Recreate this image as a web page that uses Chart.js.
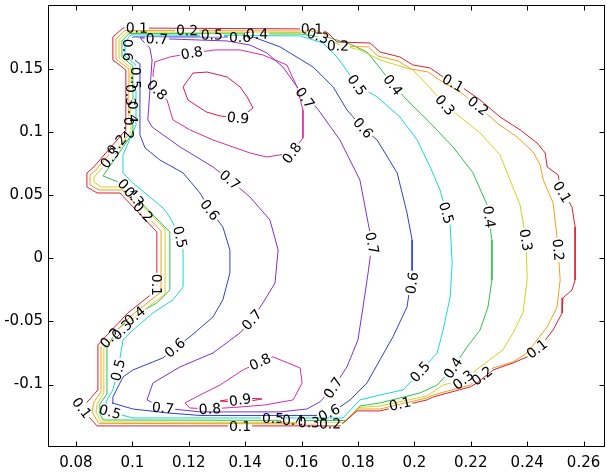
<!DOCTYPE html>
<html>
<head>
<meta charset="utf-8">
<script src="https://cdn.jsdelivr.net/npm/chart.js@4.4.1/dist/chart.umd.min.js"></script>
<style>
  html, body { margin: 0; padding: 0; background: #fff; }
</style>
</head>
<body>
<canvas id="chart" width="607" height="473"></canvas>
<script>
// contour levels and line colours
const levels = [0.1, 0.2, 0.3, 0.4, 0.5, 0.6, 0.7, 0.8, 0.9];
const levelColors = ['#dd1f2f', '#f0a020', '#d0d420', '#30c050', '#18d8d8', '#3040d0', '#8030d8', '#d82ca8', '#d81850'];

// closed contour lines as [x, y] pairs
const contour01 = [
  [0.0931, 0.1753], [0.0967, 0.1824], [0.1665, 0.1816], [0.1694, 0.1784], [0.1726, 0.1713], [0.1843, 0.1705],
  [0.1878, 0.1634], [0.1949, 0.1594], [0.1995, 0.1531], [0.2056, 0.1507], [0.2102, 0.1436], [0.2173, 0.1349],
  [0.2233, 0.1254], [0.2304, 0.1119], [0.2375, 0.1017], [0.2435, 0.0913], [0.2464, 0.0834], [0.2471, 0.0723],
  [0.2510, 0.0660], [0.2517, 0.0565], [0.2559, 0.0406], [0.2570, 0.0248], [0.2570, -0.0172], [0.2559, -0.0251],
  [0.2527, -0.0314], [0.2524, -0.0433], [0.2492, -0.0568], [0.2446, -0.0702], [0.2400, -0.0781], [0.2350, -0.0829],
  [0.2279, -0.0885], [0.2222, -0.0988], [0.2198, -0.1019], [0.2066, -0.1099], [0.2045, -0.1122], [0.1878, -0.1209],
  [0.1797, -0.1209], [0.1736, -0.1328], [0.0875, -0.1328], [0.0843, -0.1249], [0.0821, -0.1186], [0.0850, -0.1114],
  [0.0878, -0.1043], [0.0878, -0.0686], [0.0984, -0.0433], [0.1087, -0.0251], [0.1087, 0.0208], [0.0956, 0.0517],
  [0.0875, 0.0517], [0.0839, 0.0565], [0.0839, 0.0676], [0.0860, 0.0715], [0.0977, 0.1017], [0.0977, 0.1491],
  [0.0931, 0.1571]
];
const contour02 = [
  [0.0942, 0.1737], [0.0974, 0.1804], [0.1658, 0.1800], [0.1687, 0.1769], [0.1719, 0.1682], [0.1836, 0.1674],
  [0.1871, 0.1602], [0.1942, 0.1563], [0.1988, 0.1499], [0.2049, 0.1475], [0.2095, 0.1404], [0.2162, 0.1317],
  [0.2226, 0.1206], [0.2297, 0.1064], [0.2364, 0.0961], [0.2421, 0.0842], [0.2446, 0.0739], [0.2457, 0.0620],
  [0.2492, 0.0438], [0.2503, 0.0224], [0.2510, 0.0066], [0.2517, -0.0172], [0.2506, -0.0386], [0.2471, -0.0544],
  [0.2435, -0.0647], [0.2400, -0.0750], [0.2350, -0.0821], [0.2279, -0.0869], [0.2222, -0.0964], [0.2198, -0.1004],
  [0.2066, -0.1083], [0.2045, -0.1106], [0.1878, -0.1194], [0.1800, -0.1194], [0.1743, -0.1312], [0.0882, -0.1308],
  [0.0857, -0.1217], [0.0864, -0.1138], [0.0889, -0.1059], [0.0889, -0.0702], [0.0995, -0.0457], [0.1102, -0.0267],
  [0.1102, 0.0216], [0.0963, 0.0541], [0.0882, 0.0541], [0.0850, 0.0581], [0.0850, 0.0660], [0.0871, 0.0699],
  [0.0988, 0.1009], [0.0988, 0.1499], [0.0942, 0.1578]
];
const contour03 = [
  [0.0953, 0.1729], [0.0981, 0.1792], [0.1630, 0.1788], [0.1683, 0.1745], [0.1736, 0.1689], [0.1807, 0.1650],
  [0.1878, 0.1571], [0.1995, 0.1491], [0.2056, 0.1349], [0.2109, 0.1214], [0.2233, 0.0993], [0.2304, 0.0818],
  [0.2339, 0.0620], [0.2375, 0.0422], [0.2396, 0.0145], [0.2400, -0.0172], [0.2385, -0.0433], [0.2350, -0.0591],
  [0.2314, -0.0726], [0.2233, -0.0861], [0.2173, -0.0964], [0.2102, -0.1004], [0.2045, -0.1091], [0.1878, -0.1170],
  [0.1804, -0.1182], [0.1751, -0.1301], [0.0889, -0.1297], [0.0871, -0.1217], [0.0875, -0.1154], [0.0899, -0.1067],
  [0.0899, -0.0710], [0.1006, -0.0473], [0.1116, -0.0283], [0.1116, 0.0232], [0.0970, 0.0565], [0.0889, 0.0565],
  [0.0864, 0.0604], [0.0864, 0.0644], [0.0882, 0.0684], [0.0995, 0.1001], [0.0995, 0.1507], [0.0953, 0.1586]
];
const contour04 = [
  [0.0963, 0.1721], [0.0988, 0.1780], [0.1595, 0.1776], [0.1701, 0.1745], [0.1772, 0.1697], [0.1832, 0.1634],
  [0.1878, 0.1507], [0.1924, 0.1372], [0.1974, 0.1254], [0.2056, 0.1072], [0.2137, 0.0882], [0.2208, 0.0676],
  [0.2258, 0.0422], [0.2275, 0.0145], [0.2275, -0.0172], [0.2261, -0.0386], [0.2233, -0.0568], [0.2187, -0.0702],
  [0.2137, -0.0869], [0.2081, -0.1004], [0.2020, -0.1067], [0.1878, -0.1146], [0.1807, -0.1170], [0.1758, -0.1285],
  [0.0896, -0.1281], [0.0882, -0.1217], [0.0885, -0.1154], [0.0910, -0.1075], [0.0910, -0.0710], [0.0945, -0.0568],
  [0.1016, -0.0441], [0.1087, -0.0354], [0.1133, -0.0251], [0.1133, 0.0208], [0.1098, 0.0287], [0.0967, 0.0589],
  [0.0896, 0.0652], [0.1002, 0.0993], [0.1002, 0.1523], [0.0963, 0.1594]
];
const contour05 = [
  [0.0974, 0.1713], [0.0995, 0.1769], [0.1595, 0.1761], [0.1676, 0.1705], [0.1726, 0.1594], [0.1797, 0.1372],
  [0.1868, 0.1278], [0.1949, 0.1119], [0.2010, 0.0937], [0.2056, 0.0723], [0.2091, 0.0541], [0.2127, 0.0264],
  [0.2134, -0.0037], [0.2127, -0.0307], [0.2102, -0.0568], [0.2081, -0.0750], [0.2020, -0.0900], [0.1960, -0.1043],
  [0.1878, -0.1083], [0.1807, -0.1122], [0.1747, -0.1265], [0.1002, -0.1265], [0.0921, -0.1217], [0.0906, -0.1138],
  [0.0931, -0.1043], [0.0949, -0.0885], [0.0967, -0.0647], [0.0991, -0.0591], [0.1073, -0.0433], [0.1144, -0.0330],
  [0.1180, -0.0227], [0.1180, 0.0066], [0.1169, 0.0169], [0.1133, 0.0327], [0.1109, 0.0398], [0.1002, 0.0596],
  [0.0967, 0.0676], [0.0967, 0.0818], [0.1013, 0.1056], [0.1013, 0.1531], [0.0974, 0.1602]
];
const contour06 = [
  [0.0984, 0.1705], [0.1002, 0.1753], [0.1428, 0.1753], [0.1524, 0.1674], [0.1641, 0.1515], [0.1712, 0.1357],
  [0.1761, 0.1175], [0.1818, 0.1032], [0.1868, 0.0937], [0.1939, 0.0676], [0.1974, 0.0359], [0.1992, 0.0145],
  [0.1992, -0.0116], [0.1974, -0.0386], [0.1924, -0.0623], [0.1878, -0.0805], [0.1832, -0.0988], [0.1772, -0.1122],
  [0.1736, -0.1178], [0.1676, -0.1245], [0.1240, -0.1245], [0.1123, -0.1225], [0.1002, -0.1194], [0.0928, -0.1146],
  [0.0931, -0.1099], [0.0967, -0.0940], [0.1002, -0.0885], [0.1073, -0.0821], [0.1109, -0.0789], [0.1151, -0.0710],
  [0.1204, -0.0623], [0.1286, -0.0465], [0.1321, -0.0330], [0.1346, -0.0116], [0.1346, 0.0066], [0.1321, 0.0248],
  [0.1275, 0.0382], [0.1240, 0.0517], [0.1180, 0.0676], [0.1098, 0.0778], [0.1045, 0.0874], [0.1027, 0.0977],
  [0.1027, 0.1539], [0.0984, 0.1610]
];
const contour07 = [
  [0.1027, 0.1745], [0.1336, 0.1721], [0.1417, 0.1689], [0.1477, 0.1626], [0.1534, 0.1515], [0.1612, 0.1270],
  [0.1655, 0.1190], [0.1736, 0.0937], [0.1807, 0.0620], [0.1836, 0.0280], [0.1850, 0.0121], [0.1836, -0.0116],
  [0.1818, -0.0386], [0.1800, -0.0647], [0.1761, -0.0861], [0.1712, -0.1027], [0.1665, -0.1138], [0.1619, -0.1194],
  [0.1524, -0.1217], [0.1240, -0.1217], [0.1109, -0.1186], [0.1052, -0.1122], [0.1073, -0.0988], [0.1169, -0.0861],
  [0.1286, -0.0750], [0.1382, -0.0591], [0.1424, -0.0488], [0.1463, -0.0354], [0.1506, -0.0196], [0.1517, 0.0066],
  [0.1488, 0.0303], [0.1417, 0.0486], [0.1346, 0.0620], [0.1286, 0.0723], [0.1169, 0.0882], [0.1070, 0.1040],
  [0.1055, 0.1096], [0.1070, 0.1571], [0.1062, 0.1666]
];
const contour08Upper = [
  [0.1080, 0.1555], [0.1133, 0.1594], [0.1211, 0.1626], [0.1293, 0.1650], [0.1382, 0.1650], [0.1463, 0.1610],
  [0.1548, 0.1531], [0.1584, 0.1357], [0.1605, 0.1175], [0.1605, 0.0953], [0.1566, 0.0834], [0.1477, 0.0802],
  [0.1417, 0.0834], [0.1286, 0.0937], [0.1204, 0.1017], [0.1144, 0.1096], [0.1123, 0.1254], [0.1087, 0.1333],
  [0.1073, 0.1452]
];
const contour08Lower = [
  [0.1187, -0.1146], [0.1240, -0.1083], [0.1311, -0.1004], [0.1392, -0.0885], [0.1453, -0.0821], [0.1499, -0.0781],
  [0.1595, -0.0869], [0.1602, -0.0988], [0.1570, -0.1122], [0.1470, -0.1162], [0.1382, -0.1178], [0.1275, -0.1194],
  [0.1204, -0.1186]
];
const contour09Upper = [
  [0.1180, 0.1357], [0.1215, 0.1467], [0.1265, 0.1475], [0.1336, 0.1436], [0.1382, 0.1357], [0.1407, 0.1278],
  [0.1428, 0.1190], [0.1382, 0.1111], [0.1311, 0.1127], [0.1262, 0.1159], [0.1197, 0.1254]
];
const contour09Lower = [
  [0.1311, -0.1130], [0.1382, -0.1106], [0.1460, -0.1114], [0.1382, -0.1146]
];

const contourLines = [
  { level: 0.1, points: contour01 },
  { level: 0.2, points: contour02 },
  { level: 0.3, points: contour03 },
  { level: 0.4, points: contour04 },
  { level: 0.5, points: contour05 },
  { level: 0.6, points: contour06 },
  { level: 0.7, points: contour07 },
  { level: 0.8, points: contour08Upper },
  { level: 0.8, points: contour08Lower },
  { level: 0.9, points: contour09Upper },
  { level: 0.9, points: contour09Lower }
];

// inline contour labels: [level, x, y]
const contourLabels = [
  [0.1, 0.1016, 0.1824], [0.7, 0.1087, 0.1737], [0.2, 0.1194, 0.1804], [0.5, 0.1282, 0.1769],
  [0.6, 0.1382, 0.1753], [0.4, 0.1442, 0.1776], [0.1, 0.1637, 0.1816], [0.3, 0.1658, 0.1761],
  [0.2, 0.1729, 0.1682], [0.8, 0.1211, 0.1626], [0.8, 0.1087, 0.1333], [0.9, 0.1375, 0.1111],
  [0.7, 0.1612, 0.1270], [0.5, 0.1797, 0.1372], [0.6, 0.1818, 0.1032], [0.8, 0.1566, 0.0834],
  [0.4, 0.1924, 0.1372], [0.1, 0.2137, 0.1388], [0.3, 0.2109, 0.1214], [0.2, 0.2226, 0.1206],
  [0.1, 0.2524, 0.0525], [0.5, 0.2113, 0.0359], [0.4, 0.2265, 0.0327], [0.3, 0.2396, 0.0145],
  [0.2, 0.2510, 0.0066], [0.6, 0.1992, -0.0196], [0.7, 0.1850, 0.0121], [0.7, 0.1346, 0.0620],
  [0.6, 0.1275, 0.0382], [0.5, 0.1169, 0.0169], [0.1, 0.1087, -0.0211], [0.7, 0.1424, -0.0488],
  [0.6, 0.1151, -0.0710], [0.8, 0.1453, -0.0821], [0.9, 0.1382, -0.1122], [0.8, 0.1275, -0.1194],
  [0.7, 0.1109, -0.1186], [0.5, 0.1499, -0.1265], [0.1, 0.1382, -0.1328], [0.4, 0.1570, -0.1285],
  [0.3, 0.1626, -0.1301], [0.2, 0.1701, -0.1312], [0.6, 0.1698, -0.1225], [0.7, 0.1712, -0.1027],
  [0.5, 0.2020, -0.0900], [0.4, 0.2137, -0.0869], [0.3, 0.2173, -0.0964], [0.2, 0.2240, -0.0932],
  [0.1, 0.1949, -0.1154], [0.1, 0.2435, -0.0718], [0.5, 0.0949, -0.0885], [0.5, 0.0921, -0.1217],
  [0.1, 0.0821, -0.1186], [0.2, 0.0921, -0.0631], [0.3, 0.0963, -0.0568], [0.4, 0.1009, -0.0457],
  [0.2, 0.0945, 0.0897], [0.3, 0.0921, 0.0794], [0.4, 0.0984, 0.0549], [0.3, 0.1006, 0.0486],
  [0.2, 0.1038, 0.0367], [0.5, 0.1013, 0.1428], [0.3, 0.0995, 0.1293], [0.4, 0.1002, 0.1159],
  [0.2, 0.0988, 0.1032], [0.6, 0.0984, 0.1650]
];

const xTicks = [0.08, 0.1, 0.12, 0.14, 0.16, 0.18, 0.2, 0.22, 0.24, 0.26];
const yTicks = [-0.1, -0.05, 0, 0.05, 0.1, 0.15];

const FONT = 'DejaVu Sans';

function segDist(px, py, a, b) {
  const dx = b[0] - a[0], dy = b[1] - a[1];
  const len = dx * dx + dy * dy;
  let t = len ? ((px - a[0]) * dx + (py - a[1]) * dy) / len : 0;
  t = Math.max(0, Math.min(1, t));
  const qx = a[0] + t * dx, qy = a[1] + t * dy;
  return Math.hypot(px - qx, py - qy);
}

// clabel-style text: rotated along the line, own line broken under it
const labelPlugin = {
  id: 'contourLabels',
  afterDatasetsDraw(chart) {
    const { ctx, scales } = chart;
    const toPx = p => [scales.x.getPixelForValue(p[0]), scales.y.getPixelForValue(p[1])];
    ctx.save();
    ctx.font = '14px "' + FONT + '"';
    ctx.textAlign = 'center';
    ctx.textBaseline = 'middle';
    contourLabels.forEach(([lvl, lx, ly]) => {
      const [px, py] = toPx([lx, ly]);
      let best = Infinity, ang = 0, bestLine = null;
      contourLines.filter(c => c.level === lvl).forEach(c => {
        const pts = c.points.map(toPx);
        for (let i = 0; i < pts.length; i++) {
          const a = pts[i], b = pts[(i + 1) % pts.length];
          const d = segDist(px, py, a, b);
          if (d < best) { best = d; ang = Math.atan2(b[1] - a[1], b[0] - a[0]); bestLine = pts; }
        }
      });
      if (ang > Math.PI / 2) ang -= Math.PI;
      if (ang <= -Math.PI / 2) ang += Math.PI;
      const text = String(lvl);
      const w = ctx.measureText(text).width;

      // erase own line under the label
      ctx.save();
      ctx.translate(px, py);
      ctx.rotate(ang);
      ctx.beginPath();
      ctx.rect(-w / 2 - 1, -7, w + 2, 14);
      ctx.restore();
      ctx.save();
      ctx.clip();
      if (bestLine) {
        ctx.beginPath();
        bestLine.forEach((p, i) => i ? ctx.lineTo(p[0], p[1]) : ctx.moveTo(p[0], p[1]));
        ctx.closePath();
        ctx.strokeStyle = '#fff';
        ctx.lineWidth = 2.5;
        ctx.stroke();
      }
      ctx.restore();

      ctx.save();
      ctx.translate(px, py);
      ctx.rotate(ang);
      ctx.fillStyle = '#000';
      ctx.fillText(text, 0, 1);
      ctx.restore();
    });
    ctx.restore();
  }
};

// axes box with inward ticks on all four sides
const framePlugin = {
  id: 'frame',
  afterDraw(chart) {
    const { ctx, chartArea: a, scales } = chart;
    const L = Math.round(a.left) + 0.5, R = Math.round(a.right) - 0.5;
    const T = Math.round(a.top) + 0.5, B = Math.round(a.bottom) - 0.5;
    ctx.save();
    ctx.strokeStyle = '#000';
    ctx.lineWidth = 1;
    ctx.strokeRect(L, T, R - L, B - T);
    ctx.beginPath();
    xTicks.forEach(v => {
      const px = Math.round(scales.x.getPixelForValue(v)) + 0.5;
      ctx.moveTo(px, B); ctx.lineTo(px, B - 5);
      ctx.moveTo(px, T); ctx.lineTo(px, T + 5);
    });
    yTicks.forEach(v => {
      const py = Math.round(scales.y.getPixelForValue(v)) + 0.5;
      ctx.moveTo(L, py); ctx.lineTo(L + 5, py);
      ctx.moveTo(R, py); ctx.lineTo(R - 5, py);
    });
    ctx.stroke();
    ctx.restore();
  }
};

const datasets = contourLines.map(c => ({
  data: c.points.concat([c.points[0]]).map(p => ({ x: p[0], y: p[1] })),
  borderColor: levelColors[levels.indexOf(c.level)],
  borderWidth: 1,
  showLine: true,
  pointRadius: 0,
  fill: false,
  tension: 0
}));

const tickLabel = v => String(+Number(v).toFixed(2));

new Chart(document.getElementById('chart'), {
  type: 'scatter',
  data: { datasets },
  options: {
    responsive: false,
    animation: false,
    devicePixelRatio: 1,
    layout: { padding: { top: 5, right: 2, left: 0, bottom: 0 } },
    plugins: { legend: { display: false }, tooltip: { enabled: false } },
    scales: {
      x: {
        type: 'linear',
        min: 0.0701,
        max: 0.2676,
        afterBuildTicks: s => { s.ticks = xTicks.map(v => ({ value: v })); },
        afterFit: s => { s.height = 26; s.paddingLeft = 0; s.paddingRight = 0; },
        grid: { display: false, drawTicks: false },
        border: { display: false },
        ticks: { color: '#000', font: { family: FONT, size: 15 }, padding: 7, maxRotation: 0, autoSkip: false, callback: tickLabel }
      },
      y: {
        type: 'linear',
        min: -0.1495,
        max: 0.2006,
        afterBuildTicks: s => { s.ticks = yTicks.map(v => ({ value: v })); },
        afterFit: s => { s.width = 48; s.paddingTop = 0; s.paddingBottom = 0; },
        grid: { display: false, drawTicks: false },
        border: { display: false },
        ticks: { color: '#000', font: { family: FONT, size: 15 }, padding: 5, autoSkip: false, callback: tickLabel }
      }
    }
  },
  plugins: [labelPlugin, framePlugin]
});
</script>
</body>
</html>
